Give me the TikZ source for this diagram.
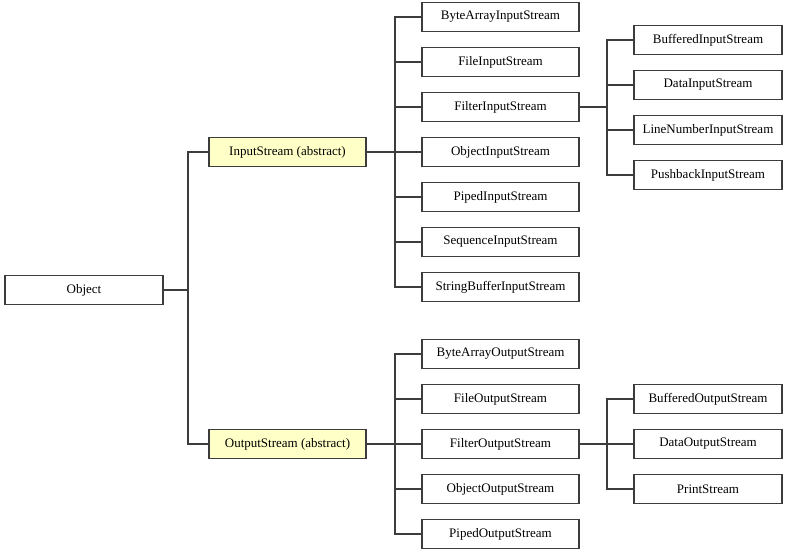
\documentclass[tikz,border=0pt]{standalone}
\usepackage{fontspec}
\setmainfont{Liberation Serif}
\usepackage{tikz}
\usetikzlibrary{calc}
\definecolor{abstractfill}{RGB}{255,255,200}
\definecolor{linegray}{RGB}{60,60,60}
\tikzset{
	cls/.style={draw=linegray,line width=1.1pt,minimum height=29pt,inner sep=0pt,font=\fontsize{13}{15}\selectfont},
	base/.style={cls,minimum width=157pt},
	sub/.style={cls,minimum width=148pt},
	abstr/.style={base,fill=abstractfill},
	link/.style={draw=linegray,line width=1.1pt}
}

\begin{document}
\begin{tikzpicture}[x=1pt,y=-1pt]
    \useasboundingbox (0,0) rectangle (797,557);
    \node[cls,minimum width=158pt] (obj) at (84,290) {Object};
    \node[abstr] (ins) at (287.5,152) {InputStream (abstract)};
    \node[abstr] (outs) at (287.5,444) {OutputStream (abstract)};
    \foreach \name/\y in {ByteArray/17,File/62,Filter/107,Object/152,Piped/197,Sequence/242,StringBuffer/287}
      \node[base] (in\name) at (500.5,\y) {\name InputStream};
    \foreach \name/\y in {Buffered/40,Data/85,LineNumber/130,Pushback/175}
      \node[sub] (fin\name) at (708,\y) {\name InputStream};
    \foreach \name/\y in {ByteArray/354,File/399,Filter/444,Object/489,Piped/534}
      \node[base] (out\name) at (500.5,\y) {\name OutputStream};
    \foreach \name/\txt/\y in {Buffered/BufferedOutputStream/399,Data/DataOutputStream/444,Print/PrintStream/489}
      \node[sub] (fout\name) at (708,\y) {\txt};
    \coordinate (trunk) at (188,290);
    \coordinate (inbus) at (395,152);
    \coordinate (outbus) at (395,444);
    \coordinate (finbus) at (607,107);
    \coordinate (foutbus) at (607,444);
    \draw[link] (obj.east) -- (trunk) |- (ins.west);
    \draw[link] (trunk) |- (outs.west);
    \draw[link] (ins.east) -- (inbus);
    \foreach \name in {ByteArray,File,Filter,Object,Piped,Sequence,StringBuffer}
      \draw[link] (inbus) |- (in\name.west);
    \draw[link] (inFilter.east) -- (finbus);
    \foreach \name in {Buffered,Data,LineNumber,Pushback}
      \draw[link] (finbus) |- (fin\name.west);
    \draw[link] (outs.east) -- (outbus);
    \foreach \name in {ByteArray,File,Filter,Object,Piped}
      \draw[link] (outbus) |- (out\name.west);
    \draw[link] (outFilter.east) -- (foutbus);
    \foreach \name in {Buffered,Data,Print}
      \draw[link] (foutbus) |- (fout\name.west);
  \end{tikzpicture}
\end{document}
